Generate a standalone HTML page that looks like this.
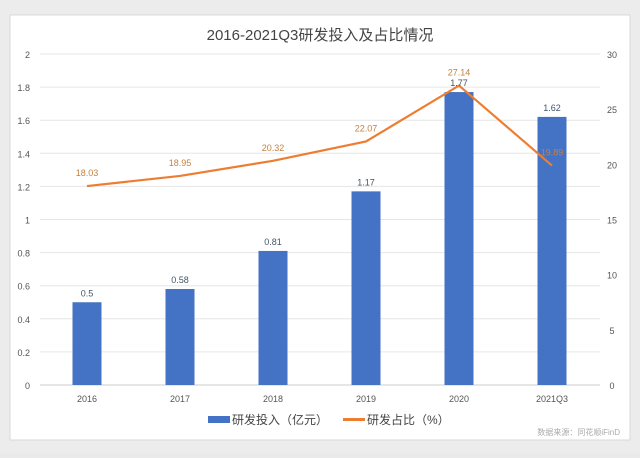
<!DOCTYPE html>
<html><head><meta charset="utf-8"><style>
body{margin:0;background:#eaeaea;width:640px;height:453px;overflow:hidden;font-family:"Liberation Sans","Noto Sans CJK SC",sans-serif}
</style></head><body>
<svg width="640" height="453">
<rect x="0" y="0" width="640" height="453" fill="#ececec"/>
<rect x="10" y="15" width="620" height="425" fill="#fff" stroke="#d8d8d8"/>
<text x="320" y="40" text-anchor="middle" font-size="15" fill="#444">2016-2021Q3研发投入及占比情况</text>
<g id="grid"></g><g id="bars"></g><g id="line"></g><g id="labels"></g>
<g>
<rect x="208" y="416" width="22" height="7" fill="#4472c4"/>
<text x="232" y="424" font-size="12" fill="#444">研发投入（亿元）</text>
<rect x="343" y="418" width="22" height="3" fill="#ed7d31"/>
<text x="367" y="424" font-size="12" fill="#444">研发占比（%）</text>
</g>
<text x="620" y="435" text-anchor="end" font-size="8" fill="#aaa">数据来源：同花顺iFinD</text>
</svg>
<script>
const categories=["2016","2017","2018","2019","2020","2021Q3"];
const investment=[0.5,0.58,0.81,1.17,1.77,1.62];
const ratio=[18.03,18.95,20.32,22.07,27.14,19.89];
const leftTicks=[0,0.2,0.4,0.6,0.8,1,1.2,1.4,1.6,1.8,2];
const rightTicks=[0,5,10,15,20,25,30];
const ns="http://www.w3.org/2000/svg";
const y0=385,y1=54,x0=40,x1=600,step=93,first=87,bw=29;
const yL=v=>y0-(v/2)*(y0-y1), yR=v=>y0-(v/30)*(y0-y1), xc=i=>first+i*step;
function mk(t,a,p,txt){const e=document.createElementNS(ns,t);for(const k in a)e.setAttribute(k,a[k]);if(txt!==undefined)e.textContent=txt;document.getElementById(p).appendChild(e);return e;}
leftTicks.forEach(v=>{const l=mk('line',{x1:x0,x2:x1,y1:yL(v),y2:yL(v),stroke:v===0?'#ccc':'#e6e6e6'},'grid');

const t=mk('text',{x:30,y:yL(v)+4,'text-anchor':'end','font-size':9,fill:'#555'},'grid',String(v));
});
rightTicks.forEach(v=>{const t=mk('text',{x:612,y:yR(v)+4,'text-anchor':'middle','font-size':9,fill:'#555'},'grid',String(v));
});
categories.forEach((c,i)=>{const t=mk('text',{x:xc(i),y:402,'text-anchor':'middle','font-size':9,fill:'#555'},'grid',c);

const b=mk('rect',{x:xc(i)-bw/2,y:yL(investment[i]),width:bw,height:y0-yL(investment[i]),fill:'#4472c4'},'bars');

const bl=mk('text',{x:xc(i),y:yL(investment[i])-6,'text-anchor':'middle','font-size':9,fill:'#44546a'},'labels',String(investment[i]));

const ll=mk('text',{x:xc(i),y:yR(ratio[i])-10,'text-anchor':'middle','font-size':9,fill:'#c5803f'},'labels',ratio[i].toFixed(2));
});
const pl=mk('polyline',{points:ratio.map((v,i)=>xc(i)+','+yR(v)).join(' '),fill:'none',stroke:'#ed7d31','stroke-width':2.2},'line');

</script>
</body></html>
